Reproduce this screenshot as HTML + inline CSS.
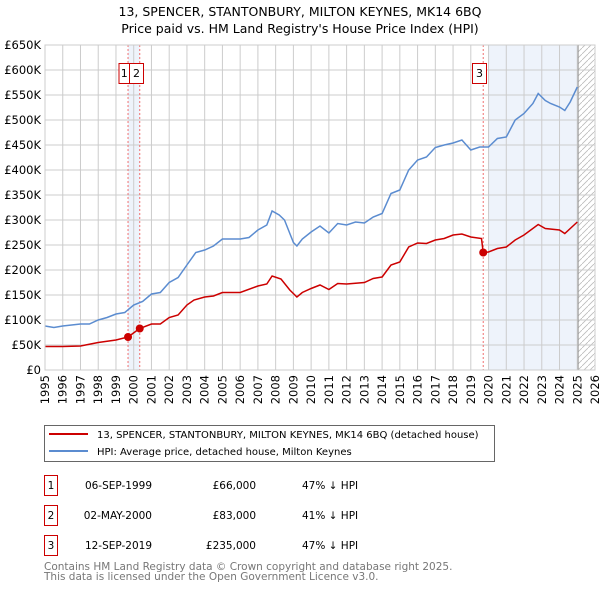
<!DOCTYPE html>
<html><head><meta charset="utf-8"><style>
body{margin:0;background:#fff;font-family:"Liberation Sans","DejaVu Sans",sans-serif;}
svg text{font-family:"DejaVu Sans","Liberation Sans",sans-serif;}
</style></head><body>
<svg id="chart" width="600" height="590" xmlns="http://www.w3.org/2000/svg">
<text x="300" y="16" text-anchor="middle" font-size="12.5">13, SPENCER, STANTONBURY, MILTON KEYNES, MK14 6BQ</text>
<text x="300" y="33" text-anchor="middle" font-size="12.5">Price paid vs. HM Land Registry's House Price Index (HPI)</text>
<g id="plot"></g>
<g>
<rect x="44.5" y="425.5" width="450" height="36" fill="#fff" stroke="#666"/>
<line x1="49" y1="434" x2="88" y2="434" stroke="#cc0000" stroke-width="2"/>
<text x="97" y="438" font-size="10">13, SPENCER, STANTONBURY, MILTON KEYNES, MK14 6BQ (detached house)</text>
<line x1="49" y1="451" x2="88" y2="451" stroke="#5b8cd0" stroke-width="2"/>
<text x="97" y="455" font-size="10">HPI: Average price, detached house, Milton Keynes</text>
</g>
<g id="table" font-size="10.5"></g>
<text x="44" y="570" font-size="10.5" fill="#777">Contains HM Land Registry data © Crown copyright and database right 2025.</text>
<text x="44" y="580" font-size="10.5" fill="#777">This data is licensed under the Open Government Licence v3.0.</text>
</svg>
<script>
const hpiYears=[1995,1995.5,1996,1997,1997.5,1998,1998.5,1999,1999.5,2000,2000.5,2001,2001.5,2002,2002.5,2003,2003.5,2004,2004.5,2005,2005.5,2006,2006.5,2007,2007.5,2007.8,2008.2,2008.5,2009,2009.2,2009.5,2010,2010.5,2011,2011.5,2012,2012.5,2013,2013.5,2014,2014.5,2015,2015.5,2016,2016.5,2017,2017.5,2018,2018.5,2019,2019.5,2020,2020.5,2021,2021.5,2022,2022.5,2022.8,2023.2,2023.5,2024,2024.3,2024.6,2025];
const hpiValues=[88,85,88,92,92,100,105,112,115,130,137,152,155,175,185,210,235,240,248,262,262,262,265,280,290,318,310,300,255,248,262,276,288,274,293,290,296,294,306,313,353,360,400,420,426,445,450,454,460,440,446,446,463,466,500,513,533,553,539,533,526,519,536,566];
const paidYears=[1995,1996,1997,1998,1999,1999.68,2000.33,2001,2001.5,2002,2002.5,2003,2003.4,2004,2004.5,2005,2005.5,2006,2007,2007.5,2007.8,2008.3,2008.8,2009.2,2009.5,2010,2010.5,2011,2011.5,2012,2013,2013.5,2014,2014.5,2015,2015.5,2016,2016.5,2017,2017.5,2018,2018.5,2019,2019.6,2019.7,2020,2020.5,2021,2021.5,2022,2022.8,2023.2,2024,2024.3,2025];
const paidValues=[47,47,48,55,60,66,83,92,92,105,110,130,140,146,148,155,155,155,168,172,188,182,160,146,155,163,170,161,173,172,175,183,186,210,216,246,254,253,260,263,270,272,266,263,235,236,243,246,260,270,291,283,280,273,296];
const saleYears=[1999.68,2000.34,2019.7];
const saleValues=[66,83,235];
const saleLabels=["1","2","3"];
const saleDates=["06-SEP-1999","02-MAY-2000","12-SEP-2019"];
const salePrices=["£66,000","£83,000","£235,000"];
const saleHpi=["47% ↓ HPI","41% ↓ HPI","47% ↓ HPI"];
const yTicks=[0,50,100,150,200,250,300,350,400,450,500,550,600,650];
const xTicks=[1995,1996,1997,1998,1999,2000,2001,2002,2003,2004,2005,2006,2007,2008,2009,2010,2011,2012,2013,2014,2015,2016,2017,2018,2019,2020,2021,2022,2023,2024,2025,2026];
const X0=45,X1=595,Y0=370,Y1=45;
const xs=y=>X0+(y-1995)/(2026-1995)*(X1-X0);
const ys=v=>Y0-v/650*(Y0-Y1);
const NS="http://www.w3.org/2000/svg";
const plot=document.getElementById('plot');
function mk(tag,attrs,parent){const e=document.createElementNS(NS,tag);for(const k in attrs)e.setAttribute(k,attrs[k]);(parent||plot).appendChild(e);return e;}
let e;
e=mk('rect',{x:X0,y:Y1,width:X1-X0,height:Y0-Y1,fill:'#fff'});


e=mk('rect',{x:xs(saleYears[0]),y:Y1,width:xs(saleYears[1])-xs(saleYears[0]),height:Y0-Y1,fill:'#eef3fb'});


e=mk('rect',{x:xs(2020),y:Y1,width:xs(2025.05)-xs(2020),height:Y0-Y1,fill:'#eef3fb'});


const defs=mk('defs',{});
const pat=mk('pattern',{id:'hatch',width:6,height:6,patternUnits:'userSpaceOnUse'},defs);
mk('path',{d:'M0,6 L6,0',stroke:'#bbb','stroke-width':0.8},pat);
e=mk('rect',{x:xs(2025.05),y:Y1,width:X1-xs(2025.05),height:Y0-Y1,fill:'url(#hatch)'});


for(const t of yTicks){
 e=mk('line',{x1:X0,x2:X1,y1:ys(t),y2:ys(t),stroke:'#ccc','stroke-width':1});
 
 
 e=mk('text',{x:X0-4,y:ys(t)+4,'text-anchor':'end','font-size':11.5});
 e.textContent=t===0?'£0':'£'+t+'K';
 
 
}
for(const t of xTicks){
 e=mk('line',{x1:xs(t),x2:xs(t),y1:Y1,y2:Y0,stroke:'#ccc','stroke-width':1});
 
 
 const tx=xs(t)+4, ty=Y0+5;
 e=mk('text',{x:tx,y:ty,'text-anchor':'end','font-size':11.5,transform:`rotate(-90 ${tx} ${ty})`});
 e.textContent=t;
 
 
}
e=mk('line',{x1:xs(2025.05),x2:xs(2025.05),y1:Y1,y2:Y0,stroke:'#999','stroke-width':1});


for(let i=0;i<saleYears.length;i++){
 e=mk('line',{x1:xs(saleYears[i]),x2:xs(saleYears[i]),y1:Y1,y2:Y0,stroke:'#f07070','stroke-width':1,'stroke-dasharray':'2,2'});
 
 
}
function pathOf(xa,va){return xa.map((y,i)=>(i?'L':'M')+xs(y).toFixed(1)+','+ys(va[i]).toFixed(1)).join(' ');}
e=mk('path',{d:pathOf(hpiYears,hpiValues),fill:'none',stroke:'#5b8cd0','stroke-width':1.5});


e=mk('path',{d:pathOf(paidYears,paidValues),fill:'none',stroke:'#cc0000','stroke-width':1.5});


const boxX=[119,129.5,472.5];
const boxW=[10.5,14,14];
for(let i=0;i<saleYears.length;i++){
 e=mk('circle',{cx:xs(saleYears[i]),cy:ys(saleValues[i]),r:4,fill:'#cc0000'});
 
 
 const g=mk('g',{});
 
 
 mk('rect',{x:boxX[i],y:63.5,width:boxW[i],height:20,fill:'#fff',stroke:'#cc0000'},g);
 const t=mk('text',{x:boxX[i]+boxW[i]/2,y:77,'text-anchor':'middle','font-size':11},g);
 t.textContent=saleLabels[i];
}
e=mk('rect',{x:X0,y:Y1,width:X1-X0,height:Y0-Y1,fill:'none',stroke:'#ccc'});


const tbl=document.getElementById('table');
for(let i=0;i<saleDates.length;i++){
 const y=475+i*30;
 const g=mk('g',{},tbl);
 
 
 mk('rect',{x:44.5,y:y+0.5,width:13,height:20,fill:'#fff',stroke:'#cc0000'},g);
 let t=mk('text',{x:51,y:y+14,'text-anchor':'middle'},g);t.textContent=saleLabels[i];
 t=mk('text',{x:152,y:y+14,'text-anchor':'end'},g);t.textContent=saleDates[i];
 t=mk('text',{x:256,y:y+14,'text-anchor':'end'},g);t.textContent=salePrices[i];
 t=mk('text',{x:302,y:y+14},g);t.textContent=saleHpi[i];
}
</script>
</body></html>
